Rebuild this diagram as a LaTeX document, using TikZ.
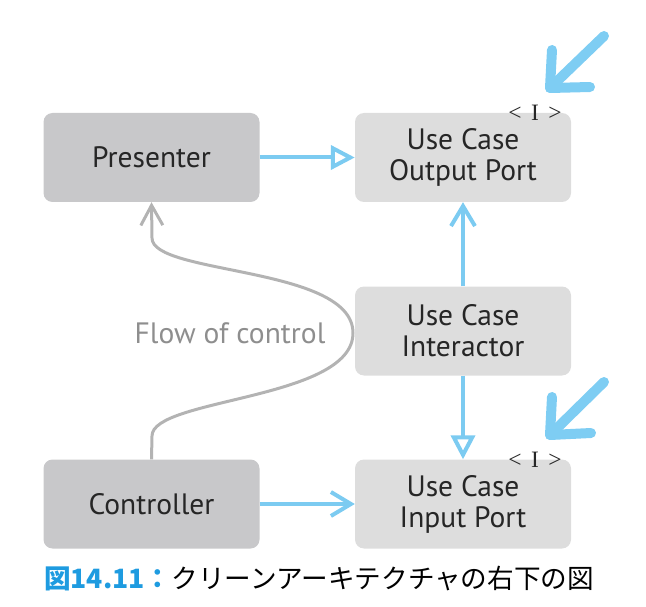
\documentclass[tikz,border=0pt]{standalone}
\usepackage{fontspec}
\setmainfont{PT Sans}
\newfontfamily\cjkfont{Noto Sans CJK JP}
\newfontfamily\seriffont{Liberation Serif}
\usetikzlibrary{arrows.meta}
\definecolor{boxdark}{HTML}{C8C8CA}
\definecolor{boxlight}{HTML}{DDDDDD}
\definecolor{linkblue}{HTML}{7CCBF1}
\definecolor{bigblue}{HTML}{7ECDF3}
\definecolor{flowgray}{HTML}{B3B3B3}
\definecolor{flowtext}{HTML}{8E8E8E}
\definecolor{capblue}{HTML}{1E9BE0}
\tikzset{
  box/.style={rounded corners=9pt, minimum width=216pt, minimum height=89pt,
    align=center, inner sep=0pt, text=black!85,
    font=\fontsize{29.5}{31}\selectfont},
  darkbox/.style={box, fill=boxdark},
  lightbox/.style={box, fill=boxlight},
  openlink/.style={draw=linkblue, line width=4pt,
    -{Triangle[open, length=24pt, width=24pt, line width=4pt]}},
  barblink/.style={draw=linkblue, line width=4pt,
    -{Straight Barb[length=20pt, width=24pt, line width=4pt]}},
  flowlink/.style={draw=flowgray, line width=3pt,
    -{Straight Barb[length=20pt, width=22pt, line width=3pt]}},
  bigarrow/.style={draw=bigblue, line width=10pt, line cap=round, line join=round},
  ilabel/.style={font=\seriffont\fontsize{23.5}{23.5}\selectfont, inner sep=0pt, text=black!85}
}
\begin{document}
\begin{tikzpicture}[x=1pt,y=-1pt]
\useasboundingbox (0,0) rectangle (646,607);
\node[darkbox] (pres) at (151.5,157.5) {Presenter};
\node[lightbox] (outp) at (463,157.5) {Use Case\\Output Port};
\node[lightbox] (inter) at (463,331) {Use Case\\Interactor};
\node[darkbox] (ctrl) at (151.5,504) {Controller};
\node[lightbox] (inp) at (463,504) {Use Case\\Input Port};

\node[ilabel] (io) at (535,113) {<\hspace{0.4em}I\hspace{0.4em}>};
\node[ilabel] (ii) at (535,460) {<\hspace{0.4em}I\hspace{0.4em}>};

\draw[openlink] (pres.east) -- (outp.west);
\draw[barblink] (inter.north) -- (outp.south);
\draw[openlink] (inter.south) -- (inp.north);
\draw[barblink] (ctrl.east) -- (inp.west);

\coordinate (fs) at (ctrl.north);
\coordinate (fe) at (pres.south);
\draw[flowlink] (fs) -- (152,436) .. controls (152,398) and (353,400) .. (353,333)
  .. controls (353,266) and (152,275) .. (152,238) -- (fe);
\node[text=flowtext, font=\fontsize{29.5}{29.5}\selectfont] (flow) at (230,333) {Flow of control};

\draw[bigarrow] (604,36) -- (550,88);
\draw[bigarrow] (552,50) -- (550,88) -- (590,87);
\draw[bigarrow] (604,382) -- (550,435);
\draw[bigarrow] (552,397) -- (550,435) -- (591,433);

\node[anchor=base west, inner sep=0pt, font=\cjkfont\fontsize{26.6}{26.6}\selectfont] (cap) at (44,588)
  {{\color{capblue}\bfseries 図14.11：}クリーンアーキテクチャの右下の図};
\end{tikzpicture}
\end{document}
